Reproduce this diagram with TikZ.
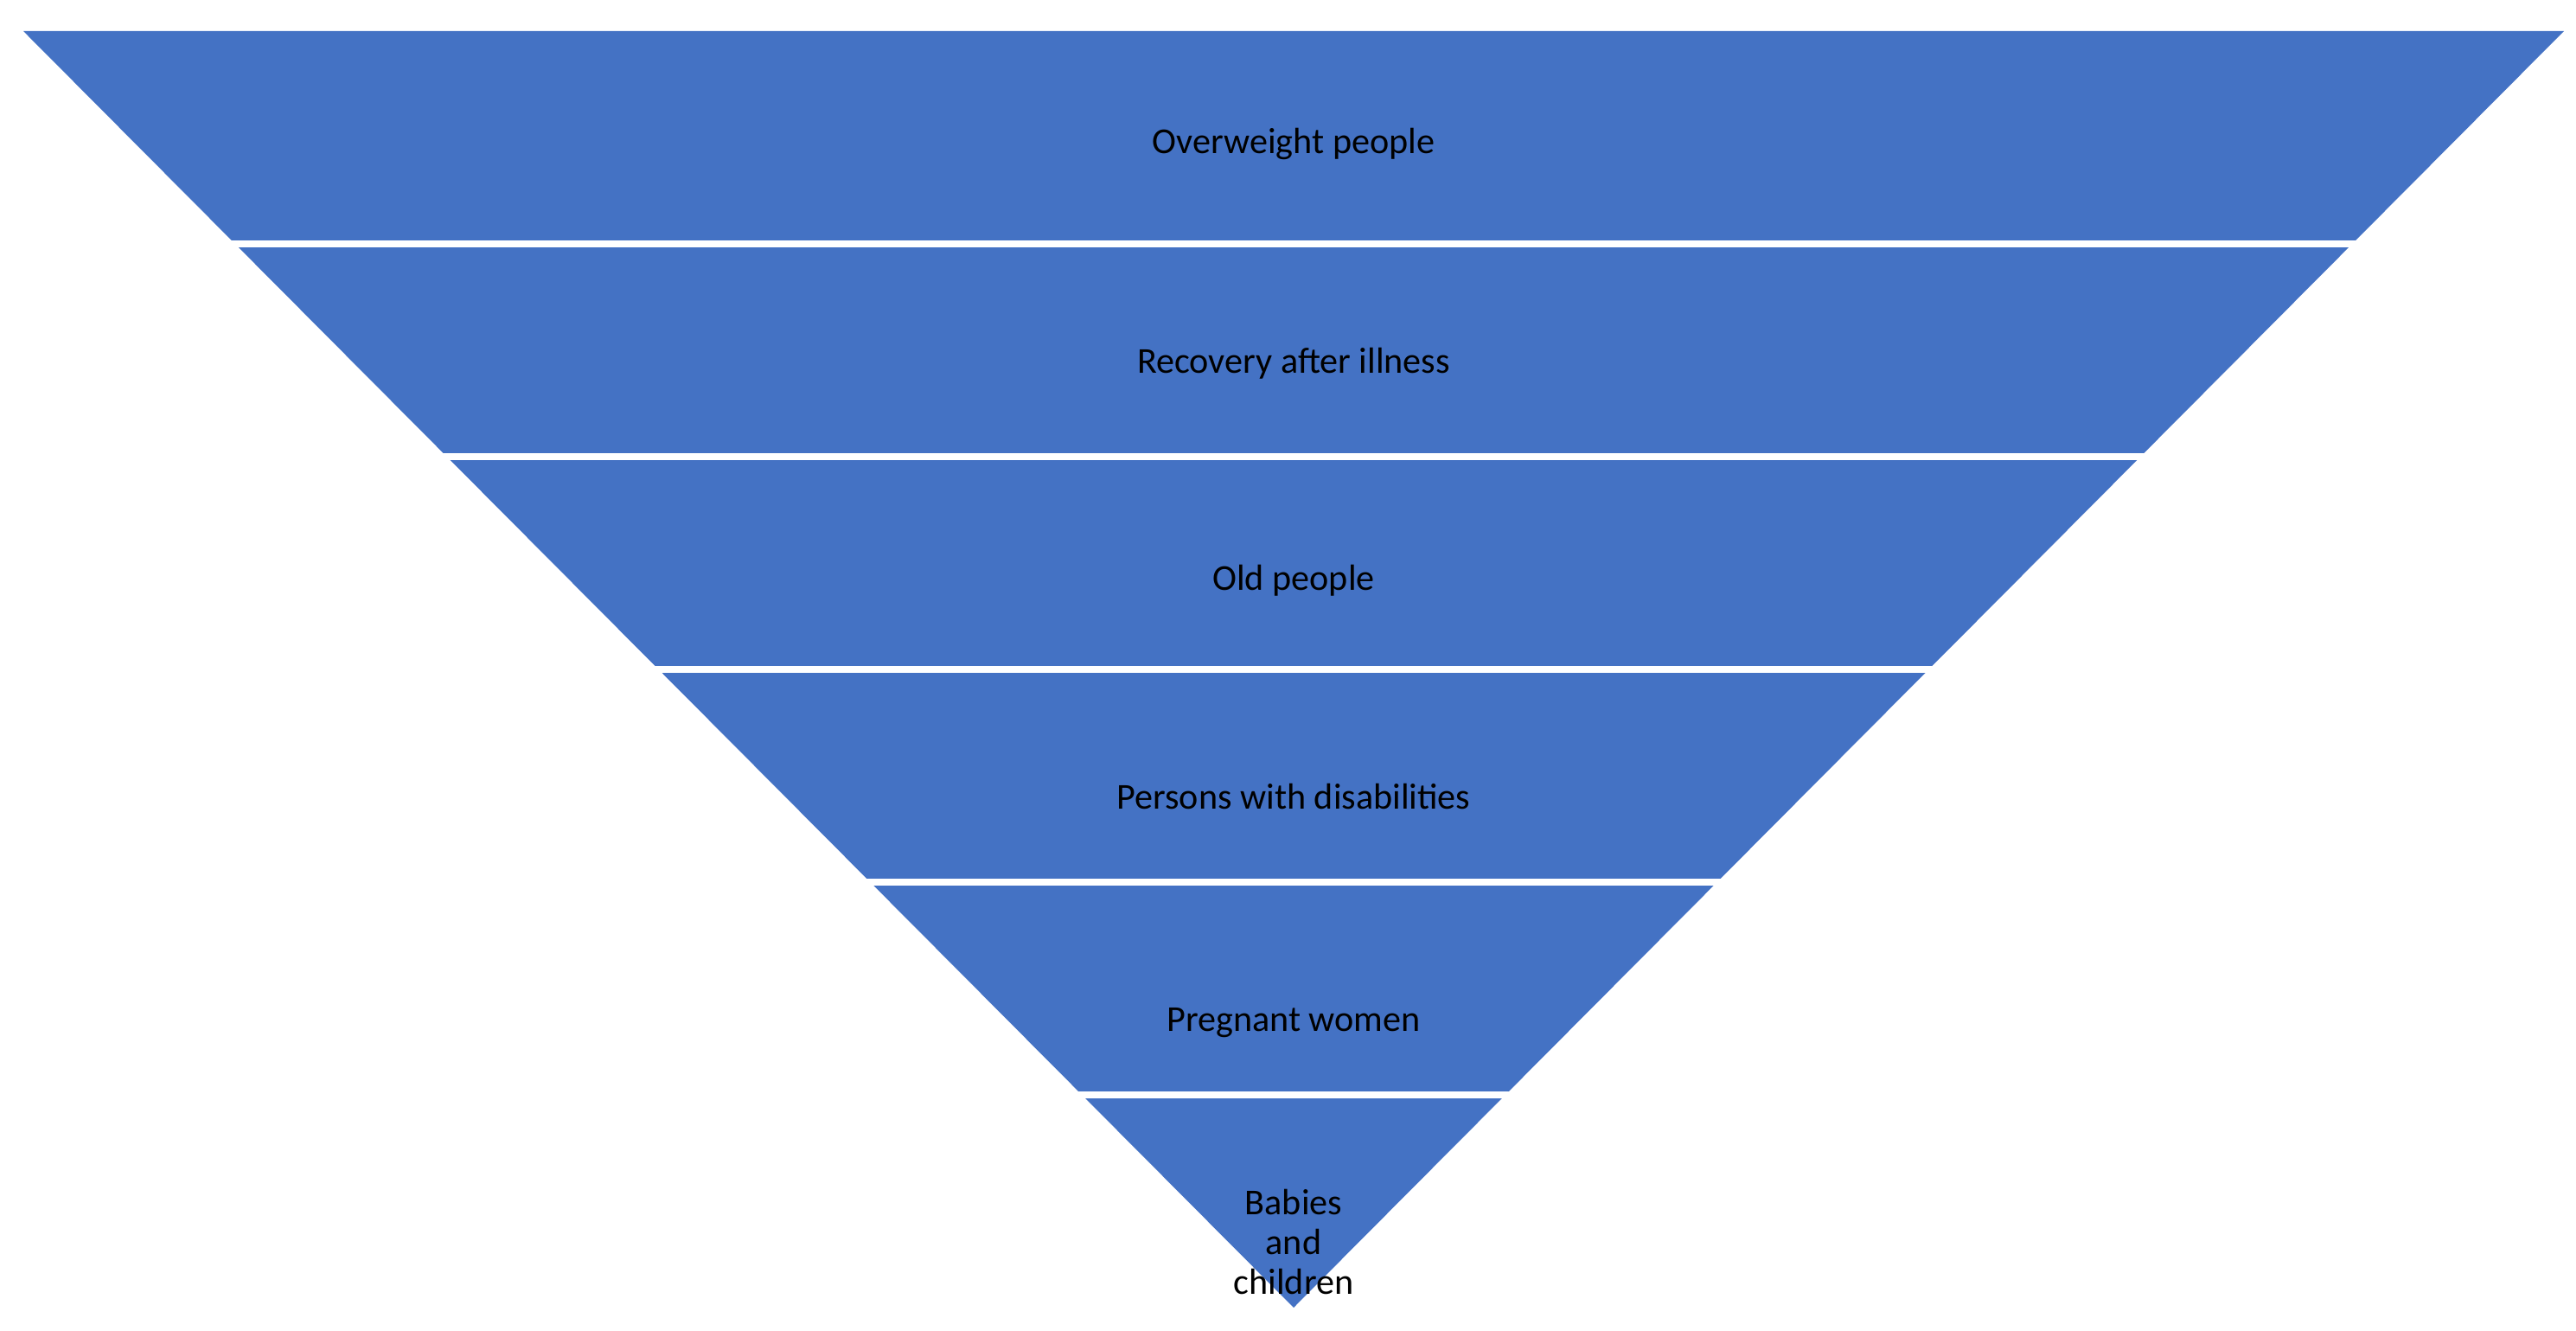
\documentclass[tikz,border=0pt]{standalone}
\usepackage{fontspec}
\setmainfont{Carlito}
\usepackage{tikz}
\definecolor{pyrblue}{RGB}{68, 114, 196}

\begin{document}
\begin{tikzpicture}[lbl/.style={black, align=center, inner sep=0pt, font=\fontsize{12pt}{13pt}\selectfont}]
                \useasboundingbox (0,0) rectangle (29.79,15.39);
                \fill[pyrblue] (0.27,15.03) -- (29.65,15.03) -- (14.96,0.27) -- cycle;
                \foreach \y in {12.57, 10.11, 7.65, 5.19, 2.73}
                    \draw[white, line width=0.08cm] (0,\y) -- (29.79,\y);
                \node[lbl] (overweight) at (14.96,13.72) {Overweight people};
                \node[lbl] (recovery) at (14.96,11.19) {Recovery after illness};
                \node[lbl] (old) at (14.96,8.68) {Old people};
                \node[lbl] (disabled) at (14.96,6.18) {Persons with disabilities};
                \node[lbl] (pregnant) at (14.96,3.56) {Pregnant women};
                \node[lbl] (babies) at (14.96,1.03) {Babies\\and\\children};
            \end{tikzpicture}
\end{document}
